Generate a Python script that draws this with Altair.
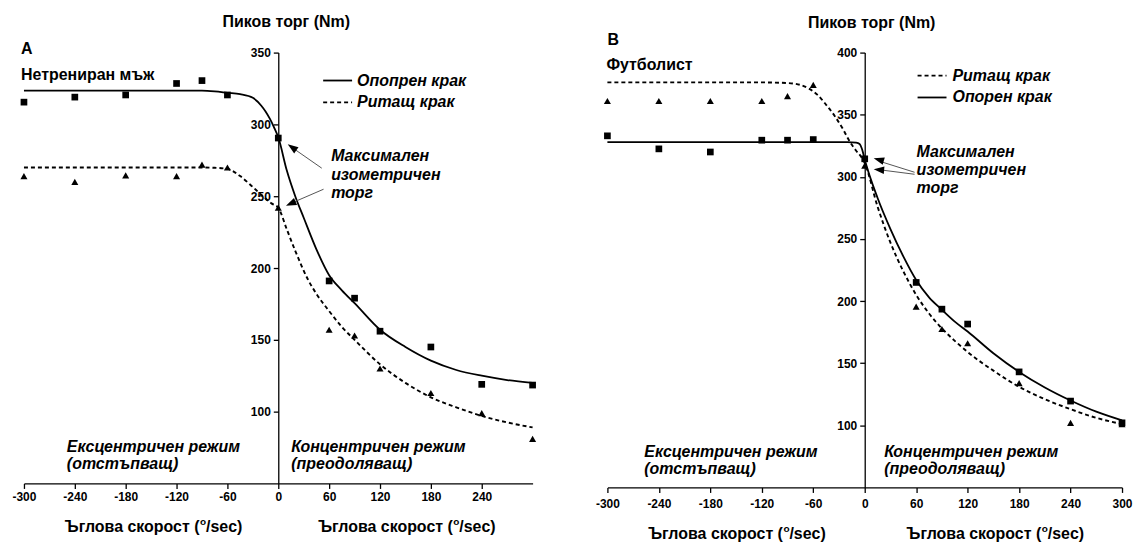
import altair as alt
import pandas as pd

FONT = "Liberation Sans"

# ---------------- Panel A: Нетрениран мъж ----------------
vel = [-300, -240, -180, -120, -90, -60, 0, 60, 90, 120, 180, 240, 300]
a_support_pts = [315.5, 319, 320.5, 328.5, 330.5, 320.5, 290.5, 191, 179, 156, 145, 119, 118.5]
a_kick_pts = [264, 260, 264.5, 264, 272, 270, 242, 157, 153, 130, 113, 99, 81]

a_support_fit_x = [-300, -240, -180, -120, -90, -75, -60, -45, -30, -20, -15, -10, -5, 0,
                   10, 20, 30, 45, 60, 75, 90, 120, 150, 180, 210, 240, 270, 300]
a_support_fit_y = [323.5, 323.5, 323.5, 323.5, 323.5, 323, 322, 321, 318.5, 313, 309, 304, 298, 291,
                   268, 250, 235, 213, 195, 184.5, 175.5, 157, 145, 135.5, 129, 125, 122, 120]

a_kick_fit_x = [-300, -240, -180, -120, -90, -75, -60, -45, -33, -20, -8, 0,
                10, 20, 35, 45, 60, 75, 90, 120, 150, 180, 210, 240, 270, 300]
a_kick_fit_y = [270, 270, 270, 270, 270, 269.8, 269, 264, 258, 251, 245, 242,
                227, 212, 192, 182, 170, 159, 150, 133, 120, 110, 103, 97, 92.5, 89]

a_y_ticks = [100, 150, 200, 250, 300, 350]
a_x_ticks = [-300, -240, -180, -120, -60, 0, 60, 120, 180, 240]

# ---------------- Panel B: Футболист ----------------
b_support_pts = [333, 322.5, 320, 329.5, 329.5, 330, 314.5, 215, 193.5, 181.5, 143, 119.5, 102]
b_kick_pts = [361, 361, 361, 361, 365, 374, 309, 195.5, 177.5, 166, 134, 102, 101]

b_support_fit_x = [-300, -240, -180, -120, -60, -20, -10, -6, -3, 0,
                   15, 30, 45, 60, 75, 90, 105, 120, 150, 180, 210, 240, 270, 300]
b_support_fit_y = [328, 328, 328, 328, 328, 328, 327.5, 326.5, 322, 314,
                   283, 258, 236, 217, 203, 193, 183.5, 175.5, 158, 143, 130.5, 120, 111, 104]

b_kick_fit_x = [-300, -240, -180, -120, -90, -75, -65, -55, -45, -35, -25, -18, -10, -4, 0,
                15, 30, 45, 60, 75, 90, 105, 120, 150, 180, 210, 240, 270, 300]
b_kick_fit_y = [376, 376, 376, 376, 375.5, 374, 371, 366, 358, 349, 338, 329, 321, 316, 311,
                276, 247, 224, 205, 190, 178, 168, 159, 144, 131, 121, 113, 106, 101]

b_y_ticks = [100, 150, 200, 250, 300, 350, 400]
b_x_ticks = [-300, -240, -180, -120, -60, 0, 60, 120, 180, 240, 300]

X_TITLE_PARTS = ["Ъглова скорост (", "o", "/sec)"]
Y_TITLE = "Пиков торг (Nm)"


def one():
    return alt.Data(values=[{"k": 0}])


def label(s, x, y, size=16, italic=False, align="left"):
    return alt.Chart(one()).mark_text(
        align=align, baseline="middle", font=FONT, fontSize=size, fontWeight="bold",
        fontStyle="italic" if italic else "normal", color="black"
    ).encode(x=alt.value(x), y=alt.value(y), text=alt.value(s))


def xtitle(cx, y):
    # "Ъглова скорост (" + superscript "o" + "/sec)"
    return [
        label(X_TITLE_PARTS[0], cx + 46, y, align="right"),
        label(X_TITLE_PARTS[1], cx + 46.5, y - 5, size=10, align="left"),
        label(X_TITLE_PARTS[2], cx + 52.5, y, align="left"),
    ]


def seg(x1, y1, x2, y2, dash=None, color="black", width=1.8, opacity=1):
    kw = dict(color=color, strokeWidth=width, strokeOpacity=opacity)
    if dash:
        kw["strokeDash"] = dash
    return alt.Chart(one()).mark_rule(**kw).encode(
        x=alt.value(x1), y=alt.value(y1), x2=alt.value(x2), y2=alt.value(y2))


def head(x, y, angle):
    return alt.Chart(one()).mark_point(
        shape="M0,0L0.36,1L-0.36,1Z", filled=True, size=440, angle=angle,
        color="black", opacity=1, strokeWidth=0
    ).encode(x=alt.value(x), y=alt.value(y))


def panel(sup_pts, kick_pts, sfx, sfy, kfx, kfy, W, H, ydom, yvals, xvals, lab_pad, extras):
    xs = alt.Scale(domain=[-300, 300], nice=False, zero=False)
    ys = alt.Scale(domain=ydom, nice=False, zero=False)
    common = dict(grid=False, title=None, domainColor="black", domainWidth=1.3,
                  tickColor="black", tickWidth=1.3, tickSize=5, labelFont=FONT,
                  labelFontSize=12, labelFontWeight="bold", labelColor="black",
                  labelFlush=False, labelOverlap=False, labelExpr="'' + datum.value")
    xax = alt.Axis(values=xvals, orient="bottom", labelPadding=lab_pad, **common)
    yax = alt.Axis(values=yvals, orient="left", offset=-W / 2, labelPadding=3, **common)
    X = alt.X("x:Q", scale=xs, axis=xax)
    Y = alt.Y("y:Q", scale=ys, axis=yax)

    sup_line = alt.Chart(pd.DataFrame({"x": sfx, "y": sfy})).mark_line(
        color="black", strokeWidth=1.8, interpolate="monotone").encode(x=X, y=Y)
    kick_line = alt.Chart(pd.DataFrame({"x": kfx, "y": kfy})).mark_line(
        color="black", strokeWidth=1.9, strokeDash=[4, 3], interpolate="monotone").encode(x=X, y=Y)
    sq = alt.Chart(pd.DataFrame({"x": vel, "y": sup_pts})).mark_point(
        shape="square", filled=True, size=45, color="black", opacity=1).encode(x=X, y=Y)
    tri = alt.Chart(pd.DataFrame({"x": vel, "y": kick_pts})).mark_point(
        shape="triangle-up", filled=True, size=50, color="black", opacity=1).encode(x=X, y=Y)
    return alt.layer(sup_line, kick_line, sq, tri, *extras).properties(width=W, height=H)


WA, HA = 510, 432
WB, HB = 516, 436

extras_a = [
    seg(-15.5, -44, -14.5, -44, width=1, opacity=0),
    label(Y_TITLE, 263, -31, align="center"),
    label("A", -3, -4),
    label("Нетрениран мъж", -3, 22),
    seg(300, 28, 329, 28),
    label("Опопрен крак", 334, 28, italic=True),
    seg(300, 50, 329, 50, dash=[4, 3]),
    label("Ритащ крак", 334, 50, italic=True),
    label("Максимален", 308, 104, italic=True),
    label("изометричен", 308, 122.5, italic=True),
    label("торг", 308, 141, italic=True),
    seg(298.6, 115.9, 270, 96, color="#555555", width=1),
    head(264.5, 92, 305),
    seg(300.4, 137, 268, 151, color="#555555", width=1),
    head(262.7, 153.6, 246),
    label("Ексцентричен режим", 43, 395, italic=True),
    label("(отстъпващ)", 43, 413, italic=True),
    label("Концентричен режим", 268, 395, italic=True),
    label("(преодоляващ)", 268, 413, italic=True),
] + xtitle(130, 476) + xtitle(384, 476)

extras_b = [
    label(Y_TITLE, 265, -30, align="center"),
    label("B", 0, -13),
    label("Футболист", -1, 12),
    seg(311, 23, 340, 23, dash=[4, 3]),
    label("Ритащ крак", 346, 23, italic=True),
    seg(311, 45, 340, 45),
    label("Опорен крак", 346, 45, italic=True),
    label("Максимален", 310, 99.5, italic=True),
    label("изометричен", 310, 117.5, italic=True),
    label("торг", 310, 135.5, italic=True),
    seg(308, 120, 273, 109, color="#555555", width=1),
    head(267, 106, 286),
    seg(308, 122, 273, 117.5, color="#555555", width=1),
    head(267, 117, 275),
    label("Ексцентричен режим", 37, 400, italic=True),
    label("(отстъпващ)", 37, 418, italic=True),
    label("Концентричен режим", 277.5, 400.5, italic=True),
    label("(преодоляващ)", 277.5, 417.5, italic=True),
] + xtitle(130, 483) + xtitle(389, 483)

panel_a = panel(a_support_pts, a_kick_pts, a_support_fit_x, a_support_fit_y,
                a_kick_fit_x, a_kick_fit_y, WA, HA, [50, 350], a_y_ticks, a_x_ticks, 3, extras_a)
panel_b = panel(b_support_pts, b_kick_pts, b_support_fit_x, b_support_fit_y,
                b_kick_fit_x, b_kick_fit_y, WB, HB, [50, 400], b_y_ticks, b_x_ticks, 6, extras_b)

chart = alt.hconcat(panel_a, panel_b, spacing=75, bounds="flush",
                    padding=0, background="white").configure_view(stroke=None)

chart.save("out.html", embed_options={"renderer": "svg", "actions": False})
